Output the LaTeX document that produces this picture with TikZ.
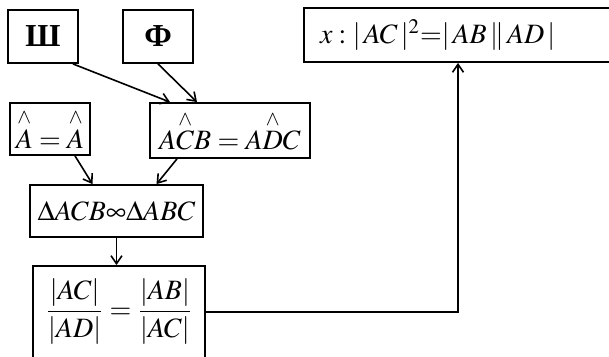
\documentclass[tikz,border=0pt]{standalone}
\usepackage{amsmath}
\usepackage{mathptmx}
\usepackage{fontspec}
\setmainfont{Liberation Serif}
\usetikzlibrary{positioning, arrows.meta, calc}

\newcommand{\ugl}[1]{\overset{\wedge}{#1}}

\begin{document}
\begin{tikzpicture}[
        x=0.5pt, y=-0.5pt,
        % stili dei blocchi
        blok/.style={draw, line width=0.9pt, inner sep=1pt,
                     font=\fontsize{14}{16}\selectfont},
        bukva/.style={blok, font=\fontsize{16}{18}\selectfont\bfseries},
        strelka/.style={-{Straight Barb[length=4pt, width=5.5pt]}, line width=0.8pt}
    ]
    \useasboundingbox (0,0) rectangle (609,357);
    \clip (0,0) rectangle (609,357);

    % blocchi in alto
    \node[bukva, minimum width=35pt, minimum height=26.5pt] (sh) at (43,36.5) {Ш};
    \node[bukva, minimum width=35pt, minimum height=26.5pt] (fi) at (158,36.5) {Ф};

    % angoli
    \node[blok, minimum width=40pt, minimum height=26pt] (aa) at (50,129)
        {$\ugl{A}=\ugl{A}$};
    \node[blok, minimum width=80pt, minimum height=27.5pt] (acb) at (230,130.5)
        {$A\ugl{C}B=A\ugl{D}C$};

    % triangoli simili
    \node[blok, minimum width=86.5pt, minimum height=26pt] (delta) at (116.5,211)
        {$\Delta ACB\infty\Delta ABC$};

    % proporzione
    \node[blok, minimum width=86pt, minimum height=46pt] (frac) at (119,312)
        {$\dfrac{|AC|}{|AD|}=\dfrac{|AB|}{|AC|}$};

    % risultato
    \node[blok, minimum height=27pt, text width=138pt, inner xsep=8pt, align=left]
        (xb) at (458,35) {$x:|\,AC\,|^2{=}|\,AB\,\|\,AD\,|$};

    \draw[strelka] ([xshift=-3pt]sh.south east) -- ([xshift=-30pt]acb.north);
    \draw[strelka] (fi.south) -- ([xshift=-16.5pt]acb.north);
    \draw[strelka] ([xshift=12.5pt]aa.south) -- ([xshift=-12pt]delta.north);
    \draw[strelka] ([xshift=-26.5pt]acb.south) -- ([xshift=20pt]delta.north);
    \draw[strelka] (delta.south) -- (delta.south |- frac.north);
    \draw[strelka] (frac.east) -| (xb.south);
\end{tikzpicture}
\end{document}
